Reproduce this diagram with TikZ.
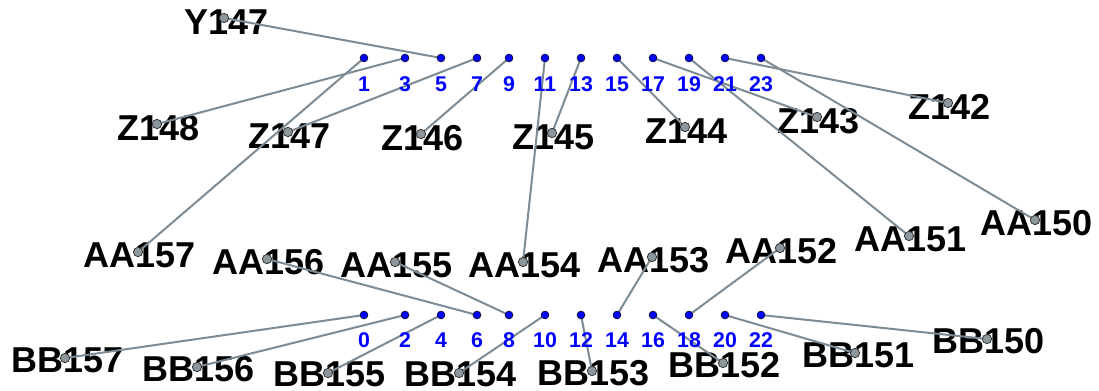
\documentclass[tikz,border=0pt]{standalone}
\usepackage{fontspec}
\setmainfont{Liberation Sans}
\usepackage{tikz}
\usetikzlibrary{calc}
\definecolor{cWire}{HTML}{7D8B95}
\definecolor{cPin}{HTML}{0000FF}
\definecolor{cPinRim}{HTML}{10104A}
\definecolor{cKnob}{HTML}{8C979D}
\definecolor{cInk}{HTML}{000000}
\tikzset{
  pin/.style={circle,fill=cPin,draw=cPinRim,line width=0.6pt,inner sep=0pt,minimum size=5.8pt},
  knob/.style={circle,fill=cKnob,draw=cInk!80,line width=0.6pt,inner sep=0pt,minimum size=7pt},
  tag/.style={font=\fontsize{16}{16}\selectfont\bfseries,text=cPin,anchor=base,inner sep=0pt},
  lbl/.style={font=\fontsize{27}{27}\selectfont\bfseries,text=cInk,anchor=base west,inner sep=0pt},
  wire/.style={line width=1.5pt,color=cWire},
}

\begin{document}
\begin{tikzpicture}[x=0.75pt,y=-0.75pt]
  \useasboundingbox (0,0) rectangle (1099,390);
  % pin rows
  \foreach \n/\x in {1/364,3/405,5/441,7/477,9/509,11/545,13/581,15/617,17/653,19/689,21/725,23/761}{
    \coordinate (t\n) at (\x,58);}
  \foreach \n/\x in {0/364,2/405,4/441,6/477,8/509,10/545,12/581,14/617,16/653,18/689,20/725,22/761}{
    \coordinate (b\n) at (\x,315);}
  % labelled end points
  \foreach \nm/\x/\y/\dx/\dy in {Y147/224/18/-40/16.5,Z148/157/124/-40/16.5,Z147/288/132/-40/16.5,
      Z146/421/134/-40/16.5,Z145/552/133/-40/16.5,Z144/685/127/-40/16.5,Z143/817/117/-40/16.5,
      Z142/948/103/-40/16.5,
      AA157/138/252/-55/15,AA156/267/259/-55/15,AA155/395/262/-55/15,AA154/523/262/-55/15,
      AA153/652/257/-55/15,AA152/780/248/-55/15,AA151/909/236/-55/15,AA150/1035/220/-55/15,
      BB157/65/358/-54/14,BB156/197/367/-55/14,BB155/328/373/-55/13.5,BB154/459/373/-55/13.5,
      BB153/592/371/-55/14,BB152/723/363/-55/14,BB151/855/353/-53/14,BB150/987/339/-55/14}{
    \coordinate (p\nm) at (\x,\y);
    \node[lbl] (l\nm) at (\x+\dx,\y+\dy) {\nm};}
  % wires
  \foreach \a/\b in {Y147/t5,Z148/t3,Z147/t7,AA157/t1,Z146/t9,AA154/t11,Z145/t13,Z144/t15,
      Z143/t17,AA151/t19,Z142/t21,AA150/t23,
      BB157/b0,BB156/b2,BB155/b4,AA156/b6,AA155/b8,BB154/b10,BB153/b12,AA153/b14,
      BB152/b16,AA152/b18,BB151/b20,BB150/b22}{
    \draw[wire] (p\a) -- (\b);}
  % dots and numbers
  \foreach \n in {1,3,...,23}{
    \node[pin] (nt\n) at (t\n) {};
    \node[tag] (gt\n) at ($(t\n)+(0,33)$) {\n};}
  \foreach \n in {0,2,...,22}{
    \node[pin] (nb\n) at (b\n) {};
    \node[tag] (gb\n) at ($(b\n)+(0,32)$) {\n};}
  \foreach \nm in {Y147,Z148,Z147,Z146,Z145,Z144,Z143,Z142,AA157,AA156,AA155,AA154,AA153,AA152,AA151,AA150,
      BB157,BB156,BB155,BB154,BB153,BB152,BB151,BB150}{
    \node[knob] (k\nm) at (p\nm) {};}
\end{tikzpicture}
\end{document}
